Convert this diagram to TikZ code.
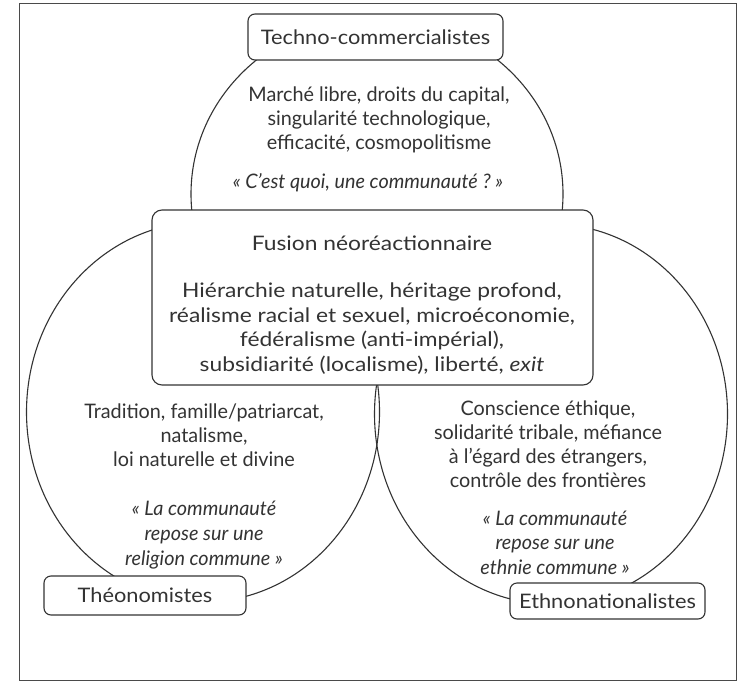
\documentclass[tikz,border=0pt]{standalone}
\usepackage{fontspec}
\setmainfont{Lato}
\newfontfamily\widefont[FakeStretch=1.14]{Lato}
\newfontfamily\labelfont[FakeStretch=1.09]{Lato}
\newfontfamily\circfont[FakeStretch=0.99]{Lato}
\definecolor{ink}{HTML}{333333}
\definecolor{framec}{HTML}{4A4A4A}
\tikzset{
  ring/.style={draw=ink, line width=1.1pt},
  labelbox/.style={draw=ink, line width=1.1pt, fill=white, rounded corners=7pt, inner sep=0pt, text=ink, font=\labelfont\fontsize{20}{24}\selectfont},
  fusionbox/.style={draw=ink, line width=1.1pt, fill=white, rounded corners=10pt, inner sep=0pt},
  maintext/.style={text=ink, align=center, inner sep=0pt, font=\widefont\fontsize{20}{24.5}\selectfont},
  circtext/.style={text=ink, align=center, inner sep=0pt, font=\circfont\fontsize{20}{24}\selectfont},
  circquote/.style={text=ink, align=center, inner sep=0pt, font=\circfont\itshape\fontsize{20}{24.5}\selectfont},
}
\begin{document}
\begin{tikzpicture}[x=1pt,y=-1pt]
\useasboundingbox (0,0) rectangle (738,682);
\fill[white] (0,0) rectangle (738,682);
\draw[framec, line width=1pt] (19,4) rectangle (736,680);
% circles
\draw[ring] (377,194) ellipse [x radius=186pt, y radius=176pt];
\draw[ring] (203,412) ellipse [x radius=176.5pt, y radius=190pt];
\draw[ring] (551,414) ellipse [x radius=176.5pt, y radius=190pt];
% boxes
\node[fusionbox, minimum width=441pt, minimum height=175pt] (fusion) at (372.5,297.5) {};
\node[labelbox, minimum width=255pt, minimum height=46pt] (techno) at (375.5,37) {Techno-commercialistes};
\node[labelbox, minimum width=202pt, minimum height=39pt] (theo) at (145,595.5) {Théonomistes};
\node[labelbox, minimum width=195pt, minimum height=36pt] (ethno) at (607.5,601) {Ethnonationalistes};
% texts
\node[circtext] (toptext) at (379,120) {Marché libre, droits du capital,\\singularité technologique,\\efficacité, cosmopolitisme};
\node[circquote] (topquote) at (368,183) {«~C’est quoi, une communauté~?~»};
\node[maintext] (fusiontitle) at (372,243) {Fusion néoréactionnaire};
\node[maintext] (fusionbody) at (372,328.5) {Hiérarchie naturelle, héritage profond,\\réalisme racial et sexuel, microéconomie,\\fédéralisme (anti-impérial),\\subsidiarité (localisme), liberté, \textit{exit}};
\node[circtext] (lefttext) at (204,435) {Tradition, famille/patriarcat,\\natalisme,\\loi naturelle et divine};
\node[circquote, font=\circfont\itshape\fontsize{20}{25}\selectfont] (leftquote) at (204,535) {«~La communauté\\repose sur une\\religion commune~»};
\node[circtext] (righttext) at (548,444) {Conscience éthique,\\solidarité tribale, méfiance\\à l’égard des étrangers,\\contrôle des frontières};
\node[circquote] (rightquote) at (555,542.5) {«~La communauté\\repose sur une\\ethnie commune~»};
\end{tikzpicture}
\end{document}
